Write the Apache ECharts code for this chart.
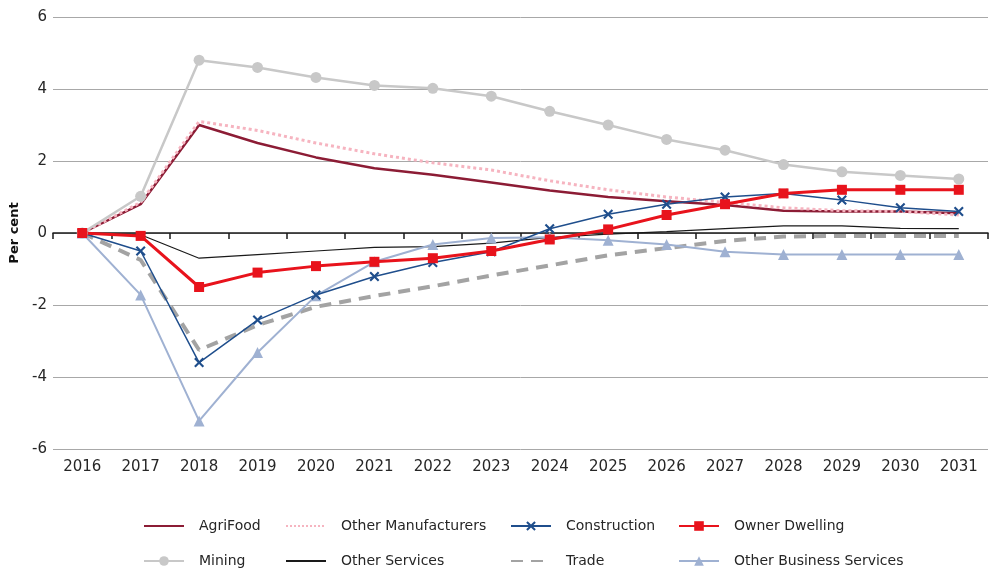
<!DOCTYPE html>
<html>
<head>
<meta charset="utf-8">
<script src="https://cdn.jsdelivr.net/npm/echarts@6/dist/echarts.min.js"></script>
<style>
html,body{margin:0;padding:0;background:#fff;}
#chart{width:1001px;height:574px;}
</style>
</head>
<body>
<div id="chart"></div>
<script>
const years = ['2016','2017','2018','2019','2020','2021','2022','2023','2024','2025','2026','2027','2028','2029','2030','2031'];
const yTicks = [-6, -4, -2, 0, 2, 4, 6];

const agriFood = [0, 0.8, 3.0, 2.5, 2.1, 1.8, 1.62, 1.4, 1.18, 1.0, 0.88, 0.78, 0.62, 0.6, 0.6, 0.55];
const otherManufacturers = [0, 0.85, 3.1, 2.85, 2.5, 2.2, 1.95, 1.75, 1.45, 1.2, 1.0, 0.85, 0.7, 0.62, 0.6, 0.5];
const construction = [0, -0.5, -3.6, -2.42, -1.72, -1.21, -0.82, -0.52, 0.12, 0.52, 0.8, 1.0, 1.1, 0.92, 0.7, 0.6];
const ownerDwelling = [0, -0.08, -1.5, -1.1, -0.92, -0.8, -0.7, -0.5, -0.18, 0.1, 0.5, 0.8, 1.1, 1.2, 1.2, 1.2];
const mining = [0, 1.02, 4.8, 4.6, 4.32, 4.1, 4.02, 3.8, 3.38, 3.0, 2.6, 2.3, 1.9, 1.7, 1.6, 1.5];
const otherServices = [0, -0.05, -0.7, -0.6, -0.5, -0.4, -0.38, -0.28, -0.12, -0.03, 0.04, 0.12, 0.2, 0.2, 0.13, 0.12];
const trade = [0, -0.75, -3.25, -2.56, -2.05, -1.75, -1.48, -1.18, -0.9, -0.62, -0.42, -0.22, -0.1, -0.08, -0.08, -0.08];
const otherBusiness = [0, -1.72, -5.22, -3.32, -1.74, -0.8, -0.32, -0.14, -0.12, -0.2, -0.32, -0.52, -0.6, -0.6, -0.6, -0.6];

const FONT = 'DejaVu Sans';
const crossPath = 'path://M1.5,0 L5,3.5 L8.5,0 L10,1.5 L6.5,5 L10,8.5 L8.5,10 L5,6.5 L1.5,10 L0,8.5 L3.5,5 L0,1.5 Z';

const seriesDefs = [
  {name:'AgriFood', data:agriFood, color:'#8c1c35', width:2.5, symbol:'none'},
  {name:'Other Manufacturers', data:otherManufacturers, color:'#f6b4c0', width:3, type:'dotted', symbol:'none'},
  {name:'Mining', data:mining, color:'#c8c8c8', width:2.5, symbol:'circle', size:11},
  {name:'Other Services', data:otherServices, color:'#1a1a1a', width:1.2, symbol:'none'},
  {name:'Trade', data:trade, color:'#a3a3a3', width:4, type:[12,8], symbol:'none'},
  {name:'Other Business Services', data:otherBusiness, color:'#9fb1d2', width:2, symbol:'triangle', size:11},
  {name:'Construction', data:construction, color:'#1f4e8c', width:1.5, symbol:crossPath, size:10},
  {name:'Owner Dwelling', data:ownerDwelling, color:'#e8131c', width:3, symbol:'rect', size:10}
];

const series = seriesDefs.map(d => ({
  name: d.name,
  type: 'line',
  xAxisIndex: 0,
  data: d.data,
  symbol: d.symbol,
  symbolSize: d.size || 0,
  showSymbol: d.symbol !== 'none',
  color: d.color,
  itemStyle: {color: d.color},
  lineStyle: {color: d.color, width: d.width, type: d.type || 'solid'},
  emphasis: {disabled: true},
  animation: false
}));

const noMarker = {};
seriesDefs.forEach(d => { noMarker[d.name] = d.symbol === 'none'; });

const legendPos = [
  {name:'AgriFood', left:143, top:519},
  {name:'Other Manufacturers', left:285, top:519},
  {name:'Construction', left:510, top:519},
  {name:'Owner Dwelling', left:678, top:519},
  {name:'Mining', left:143, top:554},
  {name:'Other Services', left:285, top:554},
  {name:'Trade', left:510, top:554},
  {name:'Other Business Services', left:678, top:554}
];
const legends = legendPos.map(l => {
  const lg = {
    data: [l.name],
    left: l.left,
    top: l.top,
    itemWidth: 40,
    itemHeight: 12,
    padding: 0,
    selectedMode: false,
    textStyle: {fontFamily: FONT, fontSize: 14, color: '#262626', padding: [0,0,0,10]}
  };
  if (noMarker[l.name]) lg.itemStyle = {opacity: 0};
  return lg;
});

const chart = echarts.init(document.getElementById('chart'), null, {renderer:'canvas'});
chart.setOption({
  animation: false,
  backgroundColor: '#ffffff',
  grid: {left: 53, right: 13, top: 17, bottom: 125, containLabel: false},
  legend: legends,
  xAxis: [
    {
      type: 'category',
      data: years,
      boundaryGap: true,
      position: 'bottom',
      axisLine: {show: false, onZero: false},
      axisTick: {show: false},
      splitLine: {show: false},
      axisLabel: {fontFamily: FONT, fontSize: 15, color: '#262626', margin: 11}
    },
    {
      type: 'category',
      data: years,
      boundaryGap: true,
      position: 'bottom',
      axisLine: {show: true, onZero: true, lineStyle: {color: '#1a1a1a', width: 1.5}},
      axisTick: {show: true, length: 6, lineStyle: {color: '#1a1a1a', width: 1.5}},
      axisLabel: {show: false},
      splitLine: {show: false}
    }
  ],
  yAxis: {
    type: 'value',
    min: yTicks[0],
    max: yTicks[yTicks.length - 1],
    interval: 2,
    name: 'Per cent',
    nameLocation: 'middle',
    nameGap: 32,
    nameTextStyle: {fontFamily: FONT, fontSize: 13, fontWeight: 'bold', color: '#111'},
    axisLine: {show: false},
    axisTick: {show: false},
    axisLabel: {fontFamily: FONT, fontSize: 15, color: '#262626', margin: 6},
    splitLine: {lineStyle: {color: '#a8a8a8', width: 1}}
  },
  series: series
});
</script>
</body>
</html>
